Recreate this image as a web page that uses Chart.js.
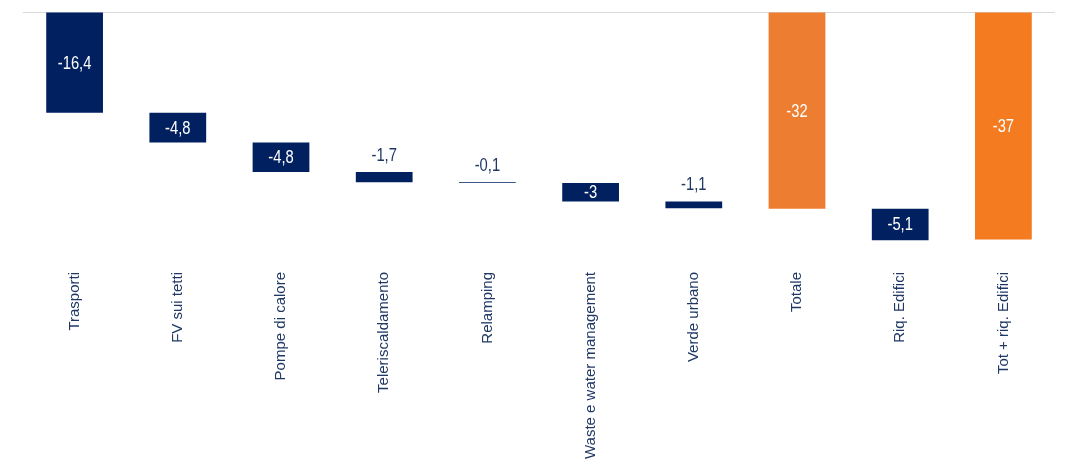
<!DOCTYPE html>
<html>
<head>
<meta charset="utf-8">
<script src="https://cdn.jsdelivr.net/npm/chart.js@4/dist/chart.umd.min.js"></script>
<style>
  html, body { margin: 0; padding: 0; background: #fff; }
  #wrap { width: 1078px; height: 461px; }
</style>
</head>
<body>
<div id="wrap"><canvas id="myChart"></canvas></div>
<script>
const categories = ['Trasporti', 'FV sui tetti', 'Pompe di calore', 'Teleriscaldamento', 'Relamping',
    'Waste e water management', 'Verde urbano', 'Totale', 'Riq. Edifici', 'Tot + riq. Edifici']
const values = [-16.4, -4.8, -4.8, -1.7, -0.1, -3, -1.1, -32, -5.1, -37]
// 'step' floats from the running level, 'total' starts at zero
const kinds = ['step', 'step', 'step', 'step', 'step', 'step', 'step', 'total', 'step', 'total']

const navy = '#002060'
const barColors = [navy, navy, navy, navy, navy, navy, navy, '#ED7D31', navy, '#F47B20']
const textNavy = '#1f3864'
const fontFamily = "'Liberation Sans', Arial, sans-serif"

// build floating bars for the waterfall
let level = 0
const floating = []
for (let i = 0; i < values.length; i++) {
    if (kinds[i] === 'total') {
        floating.push([0, values[i]])
        level = values[i]
    } else {
        floating.push([level, level + values[i]])
        level += values[i]
    }
}

const fmt = (v) => String(v).replace('.', ',')

// value labels, squeezed horizontally to look like a narrow face
const valueLabels = {
    id: 'valueLabels',
    afterDatasetsDraw(chart) {
        const ctx = chart.ctx
        const meta = chart.getDatasetMeta(0)
        const squeeze = 0.82
        ctx.save()
        ctx.font = '18px ' + fontFamily
        ctx.textAlign = 'center'
        ctx.textBaseline = 'middle'
        meta.data.forEach((bar, i) => {
            const top = Math.min(bar.y, bar.base)
            const bottom = Math.max(bar.y, bar.base)
            let y
            if (bottom - top > 16) {
                ctx.fillStyle = '#ffffff'
                y = (top + bottom) / 2 + 1
            } else {
                ctx.fillStyle = textNavy
                y = top - 16
            }
            ctx.save()
            ctx.translate(bar.x, y)
            ctx.scale(squeeze, 1)
            ctx.fillText(fmt(values[i]), 0, 0)
            ctx.restore()
        })
        ctx.restore()
    }
}

const data = {
    labels: categories,
    datasets: [{
        data: floating,
        backgroundColor: barColors,
        borderWidth: 0,
        barPercentage: 0.55,
        categoryPercentage: 1,
    }]
}

const config = {
    type: 'bar',
    data: data,
    plugins: [valueLabels],
    options: {
        responsive: true,
        maintainAspectRatio: false,
        animation: false,
        layout: { padding: { left: 23, right: 23, top: 12, bottom: 0 } },
        plugins: {
            legend: { display: false },
            tooltip: { enabled: false },
        },
        scales: {
            x: {
                grid: { display: false, drawTicks: false },
                border: { display: false },
                ticks: {
                    autoSkip: false,
                    maxRotation: 90,
                    minRotation: 90,
                    padding: 14,
                    color: textNavy,
                    font: { family: fontFamily, size: 15 },
                },
                afterFit: (scale) => { scale.height = 203 },
            },
            y: {
                min: -40,
                max: 0,
                ticks: { display: false, stepSize: 10 },
                border: { display: false },
                grid: {
                    drawTicks: false,
                    color: (c) => (c.tick && c.tick.value === 0 ? '#d9d9d9' : 'rgba(0,0,0,0)'),
                },
            },
        },
    },
}

const myChart = new Chart(document.getElementById('myChart'), config)
</script>
</body>
</html>
